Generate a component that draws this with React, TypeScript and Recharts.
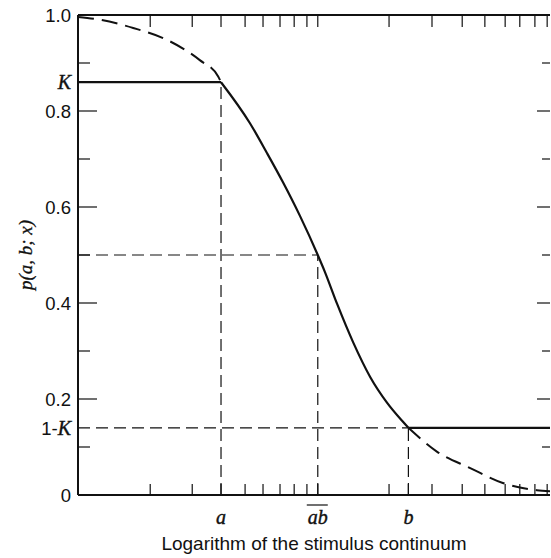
import React from 'react';
import { LineChart, Line, XAxis, YAxis, ReferenceLine, Label } from 'recharts';

// constants of the figure (in log-stimulus units, x from 0 to 10)
const K = 0.86;
const A = 3.03;
const AB = 5.08;
const B = 7.0;
const X_MAX = 10;

// solid ogive between a and b
const ogiveX = [3.03, 3.64, 4.0, 4.34, 4.7, 5.08, 5.23, 5.49, 5.83, 6.19, 6.55, 6.89, 7.0];
const ogiveP = [0.86, 0.775, 0.713, 0.652, 0.582, 0.5, 0.465, 0.398, 0.318, 0.246, 0.192, 0.152, 0.14];

// dashed tails of the full normal ogive
const upperTailX = [0, 0.47, 1.17, 1.89, 2.58, 2.97, 3.03];
const upperTailP = [0.996, 0.99, 0.973, 0.948, 0.906, 0.872, 0.86];
const lowerTailX = [7.0, 7.61, 8.31, 9.0, 9.72, 10];
const lowerTailP = [0.14, 0.09, 0.056, 0.025, 0.01, 0.008];

const yTicks = [0, 0.1, 1 - K, 0.2, 0.3, 0.4, 0.5, 0.6, 0.7, 0.8, K, 0.9, 1];
const yMajor = [0.2, 0.4, 0.6, 0.8];
const yMinor = [0.1, 0.3, 0.5, 0.7, 0.9];
const bottomTicks = [1.53, 2.42, A, 3.54, 3.92, 4.28, 4.58, 4.85, AB, 6.59, B, 7.5, 8.14, 8.62, 9.05, 9.36, 9.68, 9.94];
const topTicks = [1.53, 2.42, A, 3.54, 3.92, 4.28, 4.58, 4.85, AB, 6.59, 7.5, 8.14, 8.62, 9.05, 9.36, 9.68, 9.94];

const INK = '#111';
const SANS = '"Liberation Sans", Arial, sans-serif';
const SERIF = '"Liberation Serif", "Times New Roman", serif';

const pts = (xs: number[], ps: number[]) => xs.map((x, i) => ({ x, p: ps[i] }));
const ogive = pts(ogiveX, ogiveP);
const upperTail = pts(upperTailX, upperTailP);
const lowerTail = pts(lowerTailX, lowerTailP);
const upperFlat = [{ x: 0, p: K }, { x: A, p: K }];
const lowerFlat = [{ x: B, p: 1 - K }, { x: X_MAX, p: 1 - K }];

const italicK = (
  <tspan fontFamily={SERIF} fontStyle="italic" fontSize={20} stroke={INK} strokeWidth={0.4}>K</tspan>
);

const LeftTick = (props: any) => {
  const { x, y, payload } = props;
  const v = payload.value;
  const len = yMajor.includes(v) ? 19 : yMinor.includes(v) ? 12 : 0;
  let label: React.ReactNode = null;
  if (v === K) {
    label = italicK;
  } else if (v === 1 - K) {
    label = (
      <>
        <tspan>1-</tspan>
        {italicK}
      </>
    );
  } else if (v === 0) label = '0';
  else if (v === 1) label = '1.0';
  else if (yMajor.includes(v)) label = v.toFixed(1);
  return (
    <g>
      {len > 0 && <line x1={x} x2={x + len} y1={y} y2={y} stroke={INK} strokeWidth={1.2} />}
      {label && (
        <text x={x - 7} y={y} textAnchor="end" dominantBaseline="central"
          fontFamily={SANS} fontSize={18.5} fill={INK}>
          {label}
        </text>
      )}
    </g>
  );
};

const RightTick = (props: any) => {
  const { x, y, payload } = props;
  const v = payload.value;
  const len = yMajor.includes(v) ? 13 : yMinor.includes(v) ? 8 : 0;
  if (!len) return <g />;
  return <line x1={x} x2={x - len} y1={y} y2={y} stroke={INK} strokeWidth={1.2} />;
};

const BottomTick = (props: any) => {
  const { x, y, payload } = props;
  const v = payload.value;
  const name = v === A ? 'a' : v === AB ? 'ab' : v === B ? 'b' : null;
  return (
    <g>
      <line x1={x} x2={x} y1={y} y2={y - 11} stroke={INK} strokeWidth={1.2} />
      {name && (
        <text x={x} y={y + 29} textAnchor="middle" fontFamily={SERIF} fontStyle="italic"
          fontSize={20} fill={INK} stroke={INK} strokeWidth={0.4}>
          {name}
        </text>
      )}
      {name === 'ab' && <line x1={x - 11} x2={x + 10} y1={y + 10} y2={y + 10} stroke={INK} strokeWidth={1.2} />}
    </g>
  );
};

const TopTick = (props: any) => {
  const { x, y } = props;
  return <line x1={x} x2={x} y1={y} y2={y + 12} stroke={INK} strokeWidth={1.2} />;
};

const dashRef = { stroke: INK, strokeWidth: 1.2, strokeDasharray: '12 6' };

export default function App() {
  return (
    <div style={{ position: 'absolute', left: 0, top: 0, background: '#fff' }}>
      <LineChart width={551} height={558} margin={{ top: 0, right: 0, bottom: 0, left: 0 }}>
        <XAxis xAxisId="b" dataKey="x" type="number" domain={[0, X_MAX]} ticks={bottomTicks}
          interval={0} height={63} tickSize={0} tickMargin={0} tickLine={false}
          axisLine={{ stroke: INK, strokeWidth: 2 }} tick={<BottomTick />} allowDataOverflow>
          <Label position="insideBottom" offset={8} value="Logarithm of the stimulus continuum"
            style={{ fontFamily: SANS, fontSize: 19, fill: INK }} />
        </XAxis>
        <XAxis xAxisId="t" orientation="top" dataKey="x" type="number" domain={[0, X_MAX]}
          ticks={topTicks} interval={0} height={15} tickSize={0} tickMargin={0} tickLine={false}
          axisLine={{ stroke: INK, strokeWidth: 2 }} tick={<TopTick />} allowDataOverflow />
        <YAxis yAxisId="l" type="number" domain={[0, 1]} ticks={yTicks} interval={0} width={78}
          tickSize={0} tickMargin={0} tickLine={false} axisLine={{ stroke: INK, strokeWidth: 2 }}
          tick={<LeftTick />} allowDataOverflow>
          <Label content={(p: any) => {
            const vb = p.viewBox;
            const cx = vb.x + 25;
            const cy = vb.y + vb.height / 2;
            return (
              <text transform={`translate(${cx},${cy}) rotate(-90)`} textAnchor="middle"
                dominantBaseline="central" fontFamily={SERIF} fontStyle="italic" fontSize={19}
                fill={INK} stroke={INK} strokeWidth={0.3}>
                p(a, b; x)
              </text>
            );
          }} />
        </YAxis>
        <YAxis yAxisId="r" orientation="right" type="number" domain={[0, 1]} ticks={yTicks}
          interval={0} width={1} tickSize={0} tickMargin={0} tickLine={false} axisLine={false}
          tick={<RightTick />} allowDataOverflow />

        <ReferenceLine xAxisId="b" yAxisId="l" segment={[{ x: A, y: 0 }, { x: A, y: K }]} {...dashRef} />
        <ReferenceLine xAxisId="b" yAxisId="l" segment={[{ x: AB, y: 0 }, { x: AB, y: 0.5 }]} {...dashRef} />
        <ReferenceLine xAxisId="b" yAxisId="l" segment={[{ x: B, y: 0 }, { x: B, y: 1 - K }]} {...dashRef} />
        <ReferenceLine xAxisId="b" yAxisId="l" segment={[{ x: 0, y: 0.5 }, { x: AB, y: 0.5 }]} {...dashRef} />
        <ReferenceLine xAxisId="b" yAxisId="l" segment={[{ x: 0, y: 1 - K }, { x: B, y: 1 - K }]} {...dashRef} />

        <Line xAxisId="b" yAxisId="l" data={upperTail} dataKey="p" type="monotone" stroke={INK}
          strokeWidth={2} strokeDasharray="16 8" dot={false} isAnimationActive={false} />
        <Line xAxisId="b" yAxisId="l" data={lowerTail} dataKey="p" type="monotone" stroke={INK}
          strokeWidth={2} strokeDasharray="16 8" dot={false} isAnimationActive={false} />
        <Line xAxisId="b" yAxisId="l" data={upperFlat} dataKey="p" type="linear" stroke={INK}
          strokeWidth={2.2} dot={false} isAnimationActive={false} />
        <Line xAxisId="b" yAxisId="l" data={ogive} dataKey="p" type="monotone" stroke={INK}
          strokeWidth={2.2} dot={false} isAnimationActive={false} />
        <Line xAxisId="b" yAxisId="l" data={lowerFlat} dataKey="p" type="linear" stroke={INK}
          strokeWidth={2.2} dot={false} isAnimationActive={false} />
      </LineChart>
    </div>
  );
}
